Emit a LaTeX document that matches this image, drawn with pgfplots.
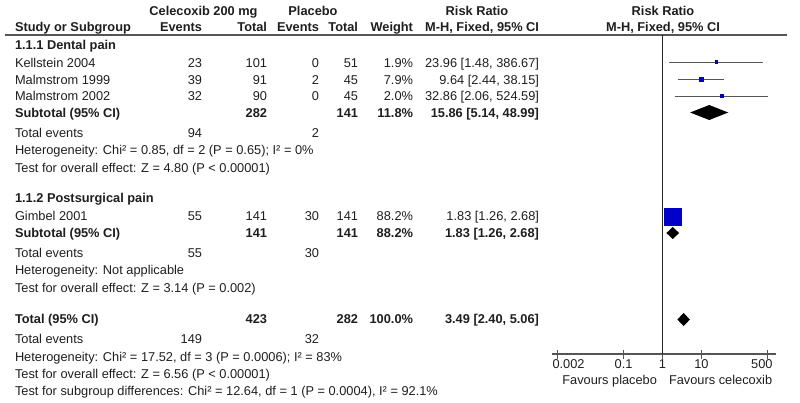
\documentclass[border=0pt]{standalone}
\usepackage{pgfplots}
\pgfplotsset{compat=1.18}
\usepackage{fontspec}
\setmainfont{Liberation Sans}
\definecolor{sq}{RGB}{0,0,200}
\definecolor{ln}{RGB}{85,85,85}
\definecolor{tx}{RGB}{30,30,30}
\newcommand\putl[3]{\node[anchor=base west] at (#1,{-(#2+4.5)}) {#3};}
\newcommand\putr[3]{\node[anchor=base east] at (#1,{-(#2+4.5)}) {#3};}
\newcommand\putc[3]{\node[anchor=base] at (#1,{-(#2+4.5)}) {#3};}
% study row: y, name, ce, ct, pe, pt, weight, rr
\newcommand\study[8]{%
  \putl{15}{#1}{#2}\putr{202}{#1}{#3}\putr{267}{#1}{#4}%
  \putr{319}{#1}{#5}\putr{358}{#1}{#6}\putr{413}{#1}{#7}\putr{539}{#1}{#8}}
\begin{document}
\begin{tikzpicture}[x=1bp,y=1bp,
  every node/.style={font=\fontsize{12.8bp}{15bp}\selectfont, text=tx, inner sep=0pt, outer sep=0pt}]
\path[use as bounding box] (0,0) rectangle (800,-402);

% header
\putc{203.5}{11}{\bfseries Celecoxib 200 mg}
\putc{313}{11}{\bfseries Placebo}
\putc{477}{11}{\bfseries Risk Ratio}
\putc{663}{11}{\bfseries Risk Ratio}
\putl{15}{27}{\bfseries Study or Subgroup}
\putr{202}{27}{\bfseries Events}
\putr{267}{27}{\bfseries Total}
\putr{319}{27}{\bfseries Events}
\putr{358}{27}{\bfseries Total}
\putr{413}{27}{\bfseries Weight}
\putr{539}{27}{\bfseries M-H, Fixed, 95\% CI}
\putc{663}{27}{\bfseries M-H, Fixed, 95\% CI}
\draw[ln, line width=1.3bp] (5,-35) -- (787,-35);

% subgroup 1
\putl{15}{45}{\bfseries 1.1.1 Dental pain}
\study{63}{Kellstein 2004}{23}{101}{0}{51}{1.9\%}{23.96 [1.48, 386.67]}
\study{79.5}{Malmstrom 1999}{39}{91}{2}{45}{7.9\%}{9.64 [2.44, 38.15]}
\study{96}{Malmstrom 2002}{32}{90}{0}{45}{2.0\%}{32.86 [2.06, 524.59]}
\putl{15}{113}{\bfseries Subtotal (95\% CI)}
\putr{267}{113}{\bfseries 282}\putr{358}{113}{\bfseries 141}
\putr{413}{113}{\bfseries 11.8\%}\putr{539}{113}{\bfseries 15.86 [5.14, 48.99]}
\putl{15}{133}{Total events}\putr{202}{133}{94}\putr{319}{133}{2}
\putl{15}{150}{Heterogeneity: Chi² = 0.85, df = 2 (P = 0.65); I² = 0\%}
\putl{15}{168}{Test for overall effect: Z = 4.80 (P < 0.00001)}

% subgroup 2
\putl{15}{198}{\bfseries 1.1.2 Postsurgical pain}
\study{215.5}{Gimbel 2001}{55}{141}{30}{141}{88.2\%}{1.83 [1.26, 2.68]}
\putl{15}{233}{\bfseries Subtotal (95\% CI)}
\putr{267}{233}{\bfseries 141}\putr{358}{233}{\bfseries 141}
\putr{413}{233}{\bfseries 88.2\%}\putr{539}{233}{\bfseries 1.83 [1.26, 2.68]}
\putl{15}{253}{Total events}\putr{202}{253}{55}\putr{319}{253}{30}
\putl{15}{270}{Heterogeneity: Not applicable}
\putl{15}{288}{Test for overall effect: Z = 3.14 (P = 0.002)}

% total
\putl{15}{319}{\bfseries Total (95\% CI)}
\putr{267}{319}{\bfseries 423}\putr{358}{319}{\bfseries 282}
\putr{413}{319}{\bfseries 100.0\%}\putr{539}{319}{\bfseries 3.49 [2.40, 5.06]}
\putl{15}{339}{Total events}\putr{202}{339}{149}\putr{319}{339}{32}
\putl{15}{357}{Heterogeneity: Chi² = 17.52, df = 3 (P = 0.0006); I² = 83\%}
\putl{15}{374}{Test for overall effect: Z = 6.56 (P < 0.00001)}
\putl{15}{391}{Test for subgroup differences: Chi² = 12.64, df = 1 (P = 0.0004), I² = 92.1\%}

\putr{657}{380}{Favours placebo}
\putl{669}{380}{Favours celecoxib}

\begin{axis}[at={(552bp,-354bp)}, anchor=south west, scale only axis,
  width=224bp, height=319bp, xmode=log, xmin=0.001443, xmax=827,
  ymin=-354, ymax=-35, axis x line*=bottom, axis y line=none, ytick=\empty,
  xtick={0.002,0.1,1,10,500},
  xticklabels={\makebox[0pt][l]{\hspace{-5bp}0.002},0.1,1,10,\makebox[0pt][r]{500\hspace{-5bp}}},
  x axis line style={ln, line width=1.3bp},
  major tick length=9bp, tick align=center,
  xtick style={ln, line width=1bp},
  xticklabel style={font=\fontsize{12.8bp}{15bp}\selectfont, text=tx, yshift=-1bp},
  clip=false]
\draw[black!85, line width=1.2bp] (axis cs:1,-35) -- (axis cs:1,-354);
% Kellstein 2004
\addplot[ln, line width=1bp] coordinates {(1.48,-62) (386.67,-62)};
\addplot[only marks, mark=square*, mark size=1.4bp, color=sq] coordinates {(23.96,-62)};
% Malmstrom 1999
\addplot[ln, line width=1bp] coordinates {(2.44,-79) (38.15,-79)};
\addplot[only marks, mark=square*, mark size=2bp, color=sq] coordinates {(9.64,-79)};
% Malmstrom 2002
\addplot[ln, line width=1bp] coordinates {(2.06,-96) (524.59,-96)};
\addplot[only marks, mark=square*, mark size=1.4bp, color=sq] coordinates {(32.86,-96)};
% Gimbel 2001
\addplot[ln, line width=1bp] coordinates {(1.26,-216.5) (2.68,-216.5)};
\addplot[only marks, mark=square*, mark size=8.8bp, color=sq] coordinates {(1.83,-216.5)};
% diamonds
\addplot[fill=black, draw=none] coordinates {(5.14,-112.5) (15.86,-105) (48.99,-112.5) (15.86,-120)} -- cycle;
\addplot[fill=black, draw=none] coordinates {(1.26,-233) (1.83,-227) (2.68,-233) (1.83,-239)} -- cycle;
\addplot[fill=black, draw=none] coordinates {(2.40,-319.5) (3.49,-313) (5.06,-319.5) (3.49,-326)} -- cycle;
\end{axis}
\end{tikzpicture}
\end{document}
